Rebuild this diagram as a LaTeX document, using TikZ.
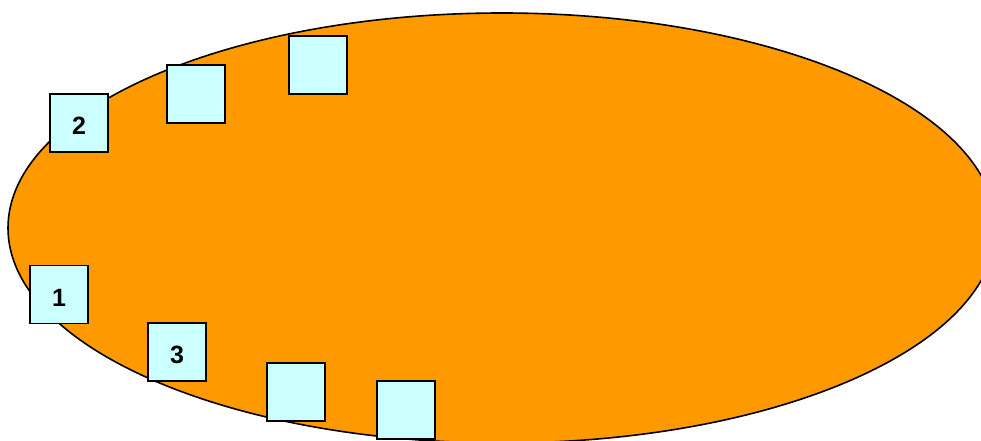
\documentclass[tikz,border=0pt]{standalone}
\usepackage{fontspec}
\setmainfont{Liberation Sans}
\definecolor{orangefill}{HTML}{FF9900}
\definecolor{cyanbox}{HTML}{CCFFFF}
\begin{document}
\begin{tikzpicture}[x=1pt,y=-1pt,
  sqbox/.style={draw=black, line width=1.6pt, fill=cyanbox, minimum width=58pt, minimum height=58pt, inner sep=0pt},
  boxlabel/.style={font=\fontsize{25}{25}\selectfont\bfseries}]
\path[use as bounding box] (0,0) rectangle (981,441);
\clip (0,0) rectangle (981,441);
\fill[white] (0,0) rectangle (981,441);
\draw[line width=1.6pt, fill=orangefill] (502,228) ellipse [x radius=494, y radius=215];
\node[sqbox] (b2) at (79,123) {};
\node[sqbox] (t2) at (196,94) {};
\node[sqbox] (t3) at (318,65) {};
\node[sqbox] (b1) at (59,294.5) {};
\node[sqbox] (b3) at (177,352) {};
\node[sqbox] (b4) at (296,392) {};
\node[sqbox] (b5) at (406,410) {};
\node[boxlabel] (l2) at ([yshift=-3pt]b2.center) {2};
\node[boxlabel] (l1) at ([yshift=-3pt]b1.center) {1};
\node[boxlabel] (l3) at ([yshift=-3pt]b3.center) {3};
\end{tikzpicture}
\end{document}
